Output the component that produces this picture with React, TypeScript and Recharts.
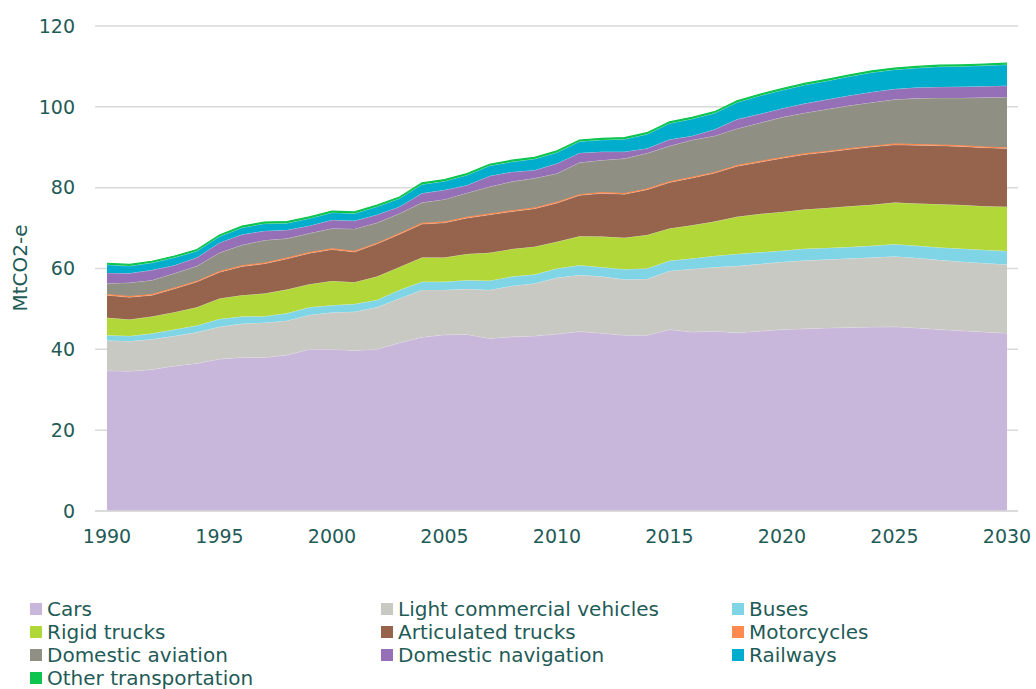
import { AreaChart, Area, XAxis, YAxis, CartesianGrid, Legend } from "recharts";

const years = [
  1990, 1991, 1992, 1993, 1994, 1995, 1996, 1997, 1998, 1999,
  2000, 2001, 2002, 2003, 2004, 2005, 2006, 2007, 2008, 2009,
  2010, 2011, 2012, 2013, 2014, 2015, 2016, 2017, 2018, 2019,
  2020, 2021, 2022, 2023, 2024, 2025, 2026, 2027, 2028, 2029, 2030,
];

const cars = [
  34.7, 34.6, 35.0, 35.9, 36.5, 37.6, 38.0, 38.0, 38.6, 40.0,
  40.0, 39.7, 40.0, 41.6, 43.0, 43.6, 43.7, 42.7, 43.1, 43.3,
  43.8, 44.4, 44.0, 43.5, 43.5, 44.9, 44.3, 44.5, 44.1, 44.5,
  44.9, 45.1, 45.3, 45.4, 45.5, 45.6, 45.3, 44.9, 44.6, 44.3, 44.0,
];
const lightCommercial = [
  7.5, 7.4, 7.5, 7.4, 7.7, 8.0, 8.3, 8.6, 8.5, 8.5,
  9.1, 9.6, 10.4, 11.0, 11.7, 11.1, 11.2, 12.0, 12.6, 13.0,
  13.9, 14.0, 14.0, 13.8, 13.9, 14.5, 15.6, 15.8, 16.5, 16.6,
  16.7, 16.9, 16.9, 17.1, 17.2, 17.4, 17.3, 17.2, 17.1, 17.0, 17.0,
];
const buses = [
  1.3, 1.3, 1.4, 1.6, 1.7, 1.9, 1.8, 1.6, 1.8, 1.9,
  1.8, 1.9, 1.8, 2.1, 2.0, 2.0, 2.2, 2.3, 2.3, 2.2,
  2.3, 2.4, 2.3, 2.5, 2.6, 2.5, 2.6, 2.8, 3.0, 2.9,
  2.8, 2.9, 2.9, 2.8, 2.9, 3.0, 3.0, 3.1, 3.2, 3.3, 3.3,
];
const rigidTrucks = [
  4.3, 4.1, 4.2, 4.3, 4.5, 5.1, 5.3, 5.6, 5.9, 5.7,
  6.0, 5.4, 5.8, 5.7, 6.0, 6.0, 6.5, 6.9, 6.8, 6.9,
  6.6, 7.2, 7.6, 7.8, 8.3, 8.0, 8.2, 8.5, 9.2, 9.5,
  9.6, 9.7, 9.9, 10.1, 10.2, 10.3, 10.5, 10.7, 10.8, 10.8, 11.0,
];
const articulatedTrucks = [
  5.6, 5.5, 5.3, 5.8, 6.3, 6.5, 7.1, 7.4, 7.6, 7.7,
  7.8, 7.5, 8.1, 8.1, 8.3, 8.6, 8.9, 9.4, 9.3, 9.4,
  9.6, 10.1, 10.7, 10.8, 11.2, 11.4, 11.7, 12.0, 12.5, 12.8,
  13.3, 13.6, 13.8, 14.1, 14.3, 14.3, 14.4, 14.5, 14.5, 14.5, 14.4,
];
const motorcycles = [
  0.3, 0.3, 0.3, 0.3, 0.3, 0.3, 0.3, 0.3, 0.3, 0.3,
  0.3, 0.3, 0.3, 0.3, 0.3, 0.3, 0.3, 0.3, 0.3, 0.3,
  0.3, 0.3, 0.3, 0.3, 0.3, 0.3, 0.3, 0.3, 0.3, 0.3,
  0.3, 0.3, 0.3, 0.3, 0.3, 0.3, 0.3, 0.3, 0.3, 0.3, 0.3,
];
const domesticAviation = [
  2.6, 3.3, 3.4, 3.5, 3.6, 4.5, 5.0, 5.5, 4.7, 4.6,
  4.9, 5.4, 4.9, 4.8, 5.0, 5.5, 5.9, 6.6, 7.1, 7.2,
  7.0, 7.8, 7.9, 8.5, 8.7, 8.7, 9.1, 8.9, 9.0, 9.4,
  9.8, 10.0, 10.3, 10.5, 10.7, 10.9, 11.3, 11.5, 11.7, 12.1, 12.4,
];
const domesticNavigation = [
  2.6, 2.3, 2.5, 2.0, 2.1, 2.5, 2.6, 2.3, 2.1, 1.9,
  2.1, 2.0, 2.0, 1.7, 2.3, 2.3, 1.9, 2.7, 2.4, 2.0,
  2.5, 2.4, 2.1, 1.7, 1.2, 1.6, 1.0, 1.6, 2.3, 2.2,
  2.2, 2.3, 2.4, 2.5, 2.6, 2.6, 2.7, 2.7, 2.8, 2.8, 2.8,
];
const railways = [
  2.0, 1.8, 1.8, 1.9, 1.6, 1.5, 1.7, 1.8, 1.7, 1.8,
  1.8, 1.8, 2.0, 2.0, 2.2, 2.2, 2.5, 2.5, 2.5, 2.8,
  2.7, 2.8, 2.9, 3.1, 3.5, 4.0, 4.2, 4.0, 4.2, 4.5,
  4.5, 4.6, 4.6, 4.7, 4.8, 4.8, 4.8, 5.0, 5.0, 5.1, 5.2,
];
const otherTransport = [
  0.4, 0.4, 0.4, 0.4, 0.4, 0.4, 0.4, 0.4, 0.4, 0.4,
  0.4, 0.4, 0.4, 0.4, 0.4, 0.4, 0.4, 0.4, 0.4, 0.4,
  0.4, 0.4, 0.4, 0.4, 0.4, 0.4, 0.4, 0.4, 0.4, 0.4,
  0.4, 0.4, 0.4, 0.4, 0.4, 0.4, 0.4, 0.4, 0.4, 0.4, 0.4,
];

const xTicks = [1990, 1995, 2000, 2005, 2010, 2015, 2020, 2025, 2030];
const yTicks = [0, 20, 40, 60, 80, 100, 120];

const series = [
  { key: "cars", name: "Cars", color: "#c8b7da", values: cars },
  { key: "lcv", name: "Light commercial vehicles", color: "#c9c9c3", values: lightCommercial },
  { key: "buses", name: "Buses", color: "#7fd5e6", values: buses },
  { key: "rigid", name: "Rigid trucks", color: "#b2d739", values: rigidTrucks },
  { key: "articulated", name: "Articulated trucks", color: "#96634c", values: articulatedTrucks },
  { key: "moto", name: "Motorcycles", color: "#ff8a50", values: motorcycles },
  { key: "aviation", name: "Domestic aviation", color: "#8f9083", values: domesticAviation },
  { key: "navigation", name: "Domestic navigation", color: "#9670b6", values: domesticNavigation },
  { key: "railways", name: "Railways", color: "#00adcd", values: railways },
  { key: "other", name: "Other transportation", color: "#0dc44f", values: otherTransport },
];

const data = years.map((year, i) => {
  const row: Record<string, number> = { year };
  series.forEach((s) => {
    row[s.key] = s.values[i];
  });
  return row;
});

const textColor = "#1f5b57";
const font = "'DejaVu Sans', sans-serif";

function LegendGrid() {
  return (
    <div
      style={{
        display: "grid",
        gridTemplateColumns: "351px 351px 300px",
        paddingLeft: 30,
        paddingTop: 2,
        height: 92,
        fontFamily: font,
        fontSize: 20,
        color: textColor,
      }}
    >
      {series.map((s) => (
        <div key={s.key} style={{ display: "flex", alignItems: "center", height: 23, whiteSpace: "nowrap" }}>
          <span style={{ width: 12, height: 12, background: s.color, marginRight: 5, display: "inline-block" }} />
          {s.name}
        </div>
      ))}
    </div>
  );
}

function YLabel() {
  return (
    <text
      x={20}
      y={268}
      transform="rotate(-90 20 268)"
      textAnchor="middle"
      dominantBaseline="central"
      fill={textColor}
      fontSize={20}
      fontFamily={font}
    >
      MtCO2-e
    </text>
  );
}

export default function App() {
  return (
    <div style={{ position: "absolute", left: 0, top: 0, background: "#fff" }}>
      <AreaChart
        width={1036}
        height={689}
        data={data}
        margin={{ top: 26, right: 18, left: 0, bottom: 0 }}
      >
        <CartesianGrid vertical={false} stroke="#d9d9d9" strokeWidth={1.5} />
        <XAxis
          dataKey="year"
          type="number"
          domain={[1990, 2030]}
          ticks={xTicks}
          padding={{ left: 12, right: 11 }}
          height={84}
          tickLine={false}
          tickMargin={13}
          axisLine={{ stroke: "#d9d9d9", strokeWidth: 1.5 }}
          tick={{ fill: textColor, fontSize: 19, fontFamily: font }}
        />
        <YAxis
          domain={[0, 120]}
          ticks={yTicks}
          width={95}
          axisLine={false}
          tickLine={false}
          tickMargin={14}
          tick={{ fill: textColor, fontSize: 19, fontFamily: font }}
          label={<YLabel />}
        />
        {series.map((s) => (
          <Area
            key={s.key}
            dataKey={s.key}
            name={s.name}
            stackId="1"
            type="linear"
            fill={s.color}
            fillOpacity={1}
            stroke={s.key === "moto" || s.key === "other" ? s.color : "#ffffff"}
            strokeWidth={s.key === "moto" || s.key === "other" ? 1.2 : 0.5}
            strokeOpacity={s.key === "moto" || s.key === "other" ? 1 : 0.6}
            isAnimationActive={false}
          />
        ))}
        <Legend verticalAlign="bottom" content={() => <LegendGrid />} />
      </AreaChart>
    </div>
  );
}
